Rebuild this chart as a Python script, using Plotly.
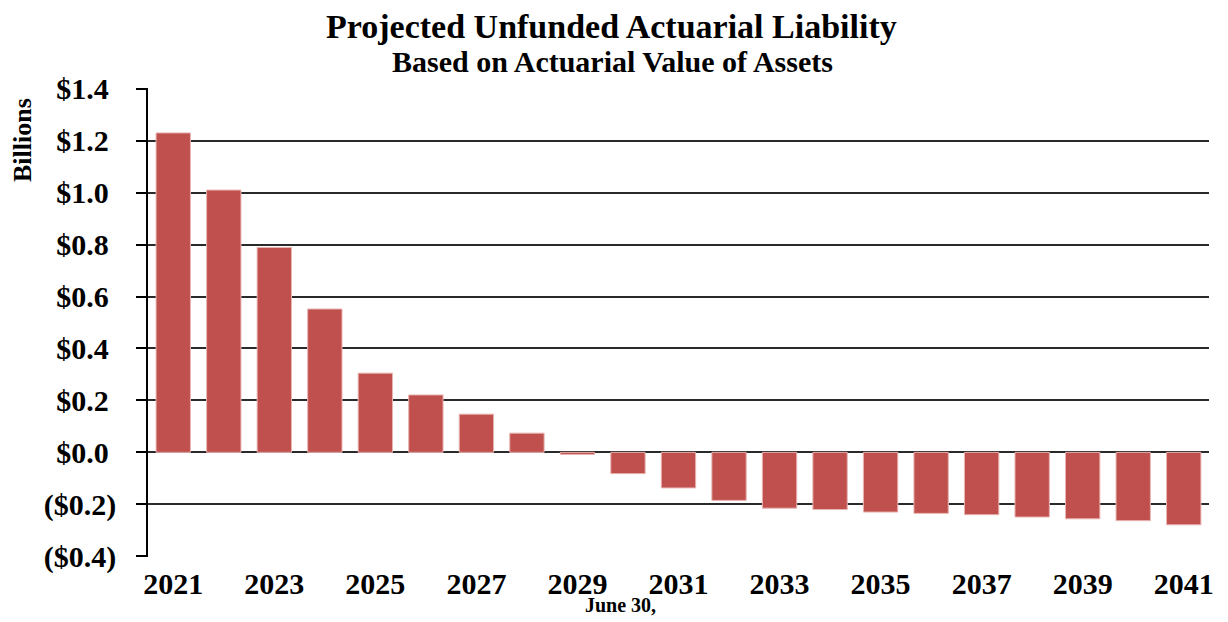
import plotly.graph_objects as go

years = [str(y) for y in range(2021, 2042)]
liability = [1.230, 1.010, 0.789, 0.552, 0.305, 0.221, 0.147, 0.074, -0.008, -0.082,
             -0.137, -0.185, -0.215, -0.220, -0.230, -0.235, -0.240, -0.249, -0.256, -0.263, -0.279]
y_tickvals = [1.4, 1.2, 1.0, 0.8, 0.6, 0.4, 0.2, 0.0, -0.2, -0.4]
y_ticktext = ["$1.4\u00a0", "$1.2\u00a0", "$1.0\u00a0", "$0.8\u00a0", "$0.6\u00a0", "$0.4\u00a0",
              "$0.2\u00a0", "$0.0\u00a0", "($0.2)", "($0.4)"]
x_tickvals = [str(y) for y in range(2021, 2042, 2)]

FONT = "Liberation Serif"
W, H = 1228, 622
OFF = 8  # page body margin offset of the rendered figure
# target plot area in screen pixels
SL, SR, ST, SB = 148, 1209, 88, 557
ML, MT = SL - OFF, ST - OFF
MR = W - (SR - OFF)
MB = H - (SB - OFF)
PW, PH = W - ML - MR, H - MT - MB


def px_x(x):
    return (x - OFF - ML) / PW


def px_y(y):
    return (H - MB - (y - OFF)) / PH


fig = go.Figure(go.Bar(
    x=years, y=liability,
    marker=dict(color="#C0504D", line=dict(color="#E8B4B2", width=1)),
    width=0.68,
))

fig.update_layout(
    width=W, height=H,
    margin=dict(l=ML, r=MR, t=MT, b=MB),
    paper_bgcolor="white", plot_bgcolor="white",
    font=dict(family=FONT, color="black"),
    showlegend=False,
    xaxis=dict(
        type="category", automargin=False,
        tickmode="array", tickvals=x_tickvals, ticktext=x_tickvals,
        tickfont=dict(family=FONT, size=30, color="black", weight="bold"),
        showgrid=False, showline=False, ticks="",
        tickangle=0, ticklabelstandoff=6,
    ),
    yaxis=dict(
        range=[-0.403, 1.403], automargin=False,
        tickmode="array", tickvals=y_tickvals, ticktext=y_ticktext,
        tickfont=dict(family=FONT, size=30, color="black", weight="bold"),
        showgrid=True, gridcolor="#2a2a2a", gridwidth=1.5,
        showline=True, linecolor="black", linewidth=1.5,
        ticks="outside", ticklen=10, tickcolor="black", tickwidth=1.5,
        zeroline=True, zerolinecolor="#2a2a2a", zerolinewidth=1.5,
        ticklabelstandoff=14,
    ),
    annotations=[
        dict(text="<b>Projected Unfunded Actuarial Liability</b>", x=px_x(611), y=px_y(27),
             xref="paper", yref="paper", xanchor="center", yanchor="middle", showarrow=False,
             borderpad=0, font=dict(family=FONT, size=34, color="black")),
        dict(text="<b>Based on Actuarial Value of Assets</b>", x=px_x(612), y=px_y(61),
             xref="paper", yref="paper", xanchor="center", yanchor="middle", showarrow=False,
             borderpad=0, font=dict(family=FONT, size=30, color="black")),
        dict(text="<b>Billions</b>", x=px_x(22), y=px_y(140), xref="paper", yref="paper",
             xanchor="center", yanchor="middle",
             showarrow=False, textangle=-90, font=dict(family=FONT, size=26, color="black")),
        dict(text="<b>June 30,</b>", x=px_x(620), y=px_y(605), xref="paper", yref="paper",
             xanchor="center", yanchor="middle",
             showarrow=False, font=dict(family=FONT, size=20, color="black")),
    ],
)

fig.write_html("out.html")
